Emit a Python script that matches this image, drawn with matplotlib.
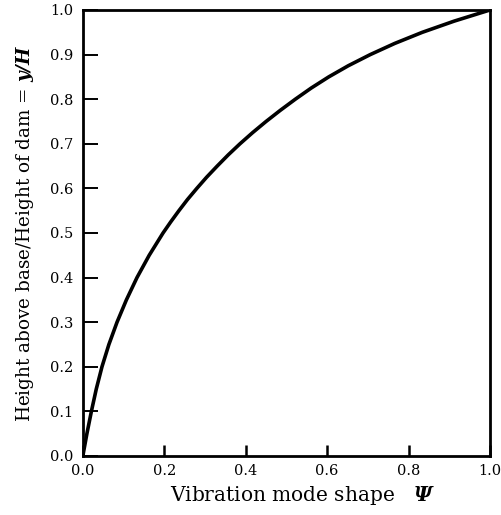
import numpy as np
import matplotlib.pyplot as plt

plt.rcParams['font.family'] = 'DejaVu Serif'
plt.rcParams['mathtext.fontset'] = 'dejavuserif'

# fundamental mode shape of the dam, psi against y/H
# (finer steps over the upper half where the curve bends most)
height_ratio = [0.0, 0.05, 0.1, 0.15, 0.2, 0.25, 0.3, 0.35, 0.4, 0.45, 0.5,
                0.525, 0.55, 0.575, 0.6, 0.625, 0.65, 0.675, 0.7, 0.725, 0.75,
                0.775, 0.8, 0.825, 0.85, 0.875, 0.9, 0.925, 0.95, 0.975, 1.0]
mode_shape = [0.0, 0.010, 0.021, 0.033, 0.047, 0.064, 0.084, 0.107, 0.133, 0.163, 0.197,
              0.216, 0.236, 0.257, 0.280, 0.304, 0.330, 0.357, 0.386, 0.417, 0.450,
              0.485, 0.522, 0.561, 0.604, 0.652, 0.706, 0.766, 0.834, 0.912, 1.0]

x_ticks = [0.0, 0.2, 0.4, 0.6, 0.8, 1.0]
y_ticks = [0.0, 0.1, 0.2, 0.3, 0.4, 0.5, 0.6, 0.7, 0.8, 0.9, 1.0]

fig = plt.figure(figsize=(5.02, 5.15), dpi=100)
ax = fig.add_axes([0.165, 0.1146, 0.811, 0.866])

ax.plot(mode_shape, height_ratio, color='black', lw=2.6,
        solid_capstyle='round', solid_joinstyle='round')

ax.set_xlim(0, 1)
ax.set_ylim(0, 1)
ax.set_xticks(x_ticks)
ax.set_yticks(y_ticks)
ax.set_xticklabels(['%.1f' % v for v in x_ticks])
ax.set_yticklabels(['%.1f' % v for v in y_ticks])

ax.tick_params(axis='y', direction='in', length=11, width=1.4, pad=7, labelsize=10.5)
ax.tick_params(axis='x', direction='in', length=8, width=1.8, pad=6, labelsize=10.5)

for side in ax.spines.values():
    side.set_linewidth(2.0)

ax.set_xlabel(r'Vibration mode shape   $\mathbfit{\Psi}$', fontsize=14.5, labelpad=4, x=0.54)
ax.set_ylabel(r'Height above base/Height of dam = $\mathbfit{y/H}$', fontsize=13.2, labelpad=10)

fig.savefig('out.png', dpi=100)
